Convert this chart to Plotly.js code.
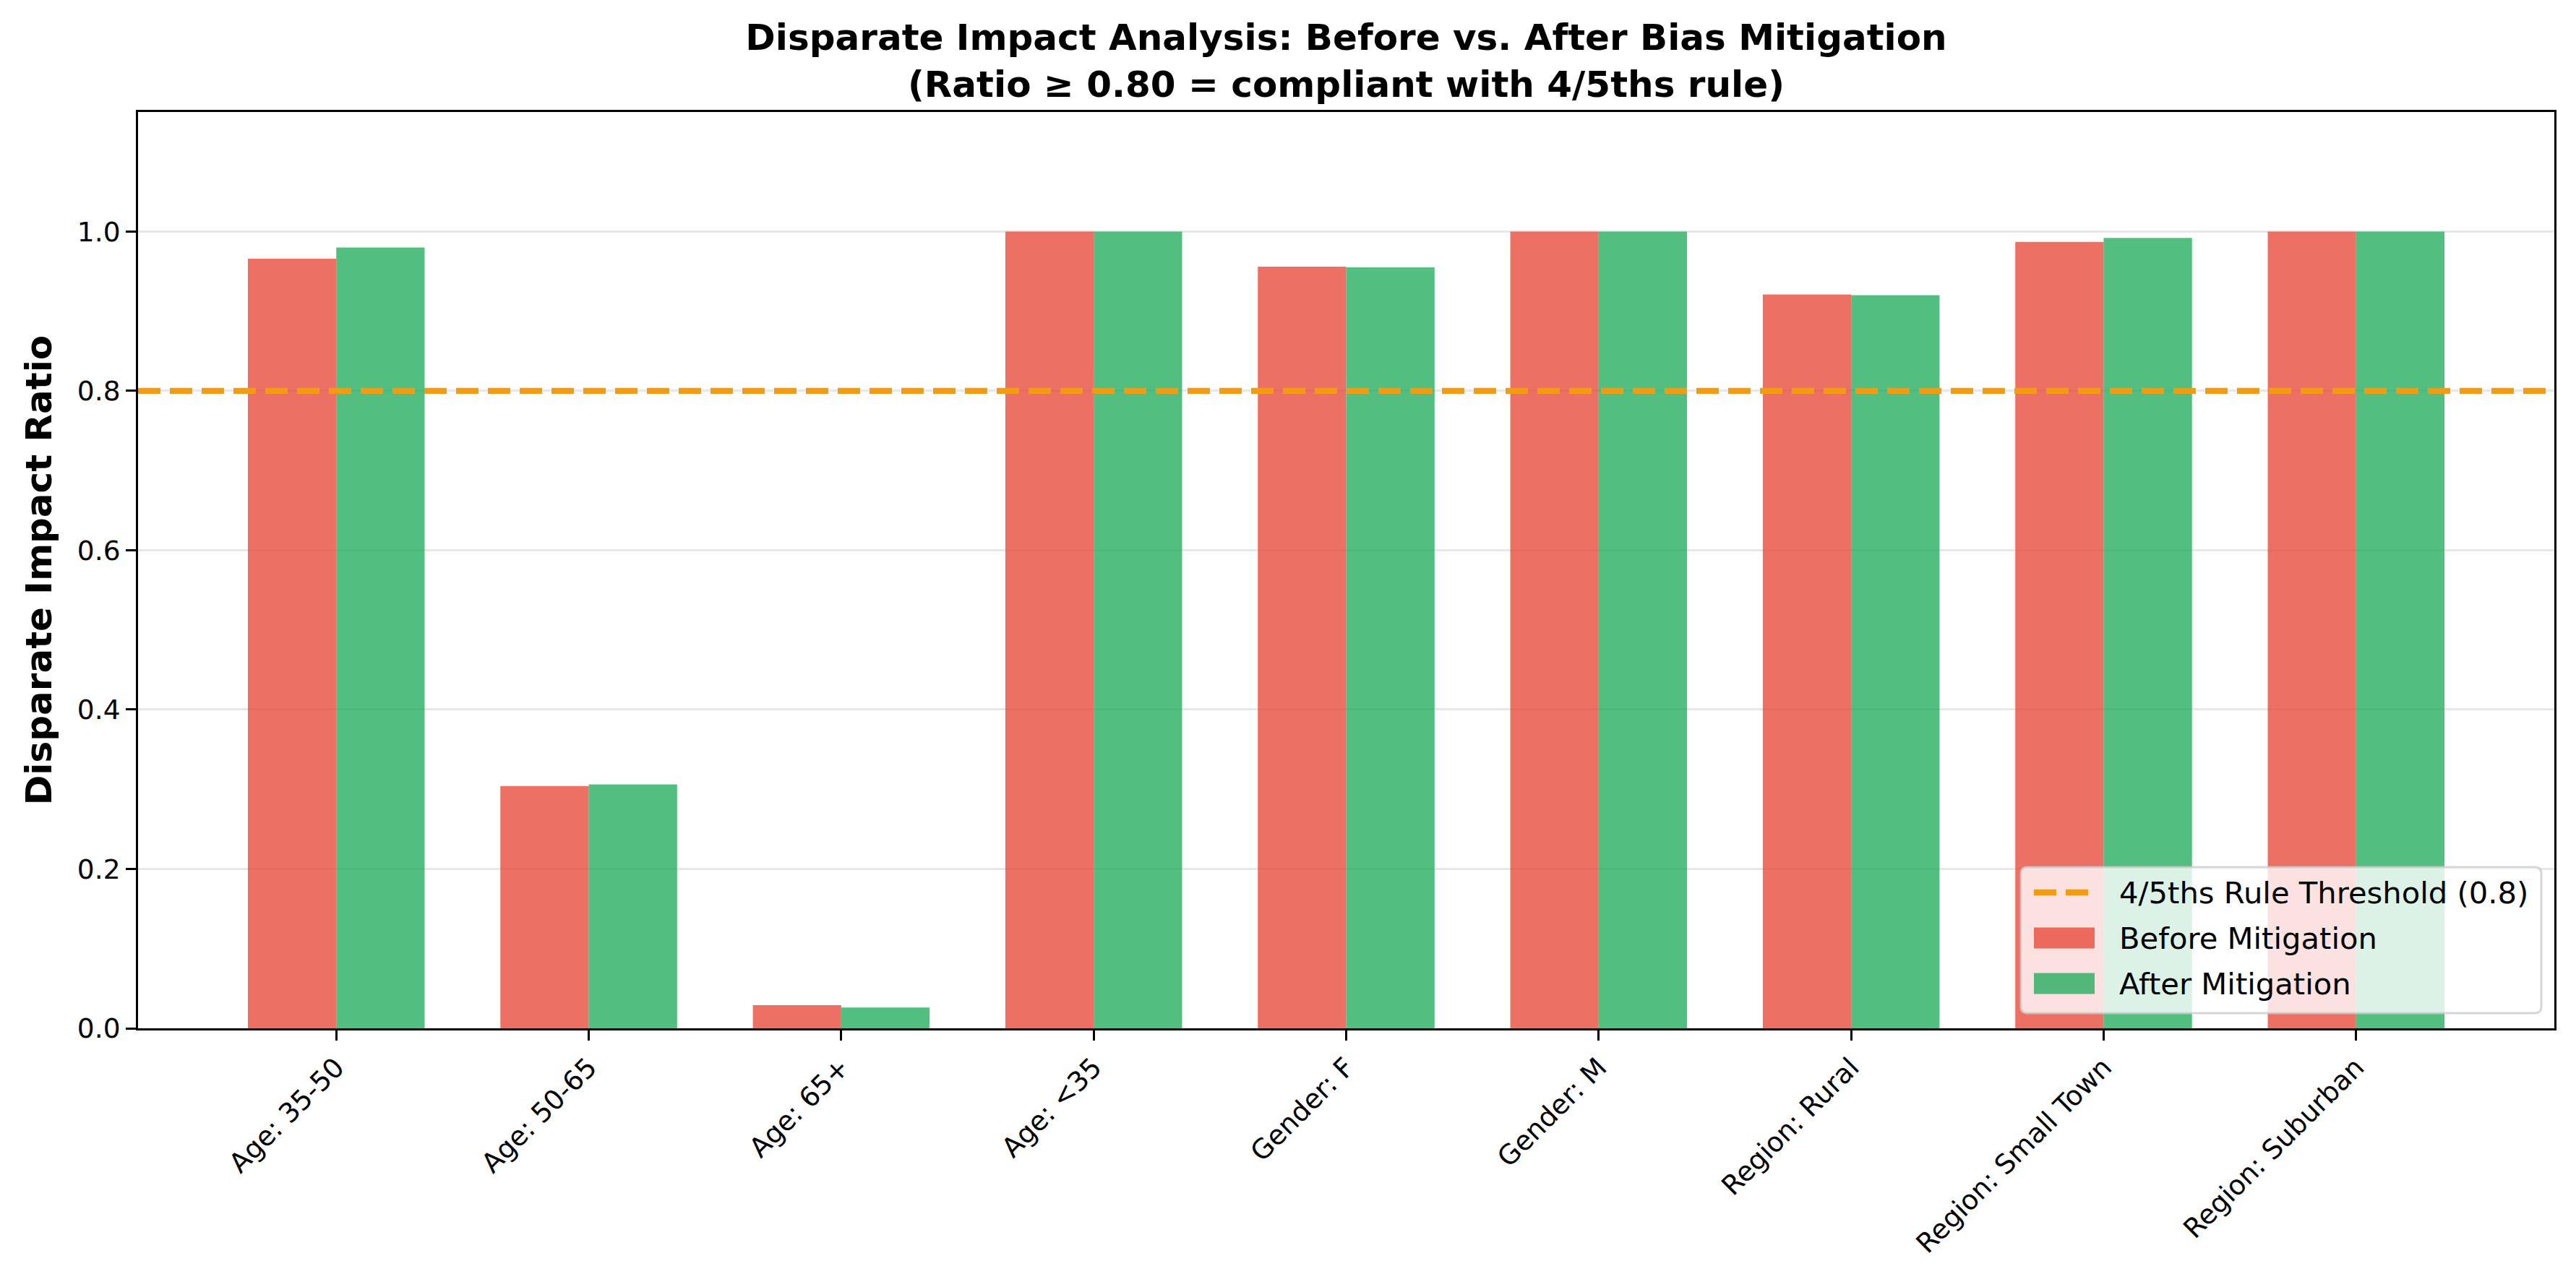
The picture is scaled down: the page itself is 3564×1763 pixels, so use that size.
<!DOCTYPE html>
<html>
<head>
<meta charset="utf-8">
<script src="https://cdn.plot.ly/plotly-3.0.1.min.js"></script>
<style>
  html, body { margin: 0; padding: 0; background: #ffffff; }
  #chart { width: 3564px; height: 1763px; }
</style>
</head>
<body>
<div id="chart"></div>
<script>
// Disparate impact ratios per subgroup, before and after mitigation
const categories = [
  'Age: 35-50', 'Age: 50-65', 'Age: 65+', 'Age: <35',
  'Gender: F', 'Gender: M',
  'Region: Rural', 'Region: Small Town', 'Region: Suburban'
];
const beforeMitigation = [0.966, 0.304, 0.029, 1.000, 0.956, 1.000, 0.921, 0.987, 1.000];
const afterMitigation  = [0.980, 0.306, 0.026, 1.000, 0.955, 1.000, 0.920, 0.992, 1.000];
const threshold = 0.8;
const yTicks = [0, 0.2, 0.4, 0.6, 0.8, 1.0];

const seriesNames = ['Before Mitigation', 'After Mitigation'];
const thresholdName = '4/5ths Rule Threshold (' + threshold + ')';

const RED = 'rgba(231,76,60,0.8)';
const GREEN = 'rgba(39,174,96,0.8)';
const ORANGE = '#f39c12';
const FONT = 'DejaVu Sans';

// plot area in page pixels
const W = 3564, H = 1763;
const PL = 191, PR = 3534, PT = 155, PB = 1423;
const px = x => (x - PL) / (PR - PL);
const py = y => (PB - y) / (PB - PT);

const escapeLabel = s => s.replace(/&/g, '&amp;').replace(/</g, '&lt;').replace(/>/g, '&gt;');

const traces = [
  {
    type: 'bar', name: seriesNames[0], x: categories, y: beforeMitigation,
    marker: { color: RED, line: { width: 0 } }, showlegend: false
  },
  {
    type: 'bar', name: seriesNames[1], x: categories, y: afterMitigation,
    marker: { color: GREEN, line: { width: 0 } }, showlegend: false
  },
  {
    // horizontal threshold spanning the full plot width (overlay axis 0..1)
    type: 'scatter', mode: 'lines', name: thresholdName,
    x: [0, 1], y: [threshold, threshold], xaxis: 'x2', yaxis: 'y',
    line: { color: ORANGE, width: 8.3, dash: '31px,13px' },
    showlegend: false, hoverinfo: 'skip'
  }
];

// hand-drawn legend box in the lower right corner
const lg = { x0: 2796, x1: 3516, y0: 1200, y1: 1402, r: 9 };
function roundedRect(b) {
  const rx = b.r / (PR - PL), ry = b.r / (PB - PT);
  const X0 = px(b.x0), X1 = px(b.x1), Y0 = py(b.y1), Y1 = py(b.y0);
  return 'M' + (X0 + rx) + ',' + Y1 +
    ' L' + (X1 - rx) + ',' + Y1 + ' Q' + X1 + ',' + Y1 + ' ' + X1 + ',' + (Y1 - ry) +
    ' L' + X1 + ',' + (Y0 + ry) + ' Q' + X1 + ',' + Y0 + ' ' + (X1 - rx) + ',' + Y0 +
    ' L' + (X0 + rx) + ',' + Y0 + ' Q' + X0 + ',' + Y0 + ' ' + X0 + ',' + (Y0 + ry) +
    ' L' + X0 + ',' + (Y1 - ry) + ' Q' + X0 + ',' + Y1 + ' ' + (X0 + rx) + ',' + Y1 + ' Z';
}

const handleX0 = 2814, handleX1 = 2898, textX = 2930;
const rowY = [1235, 1298, 1361];

const shapes = [
  {
    type: 'path', xref: 'paper', yref: 'paper', layer: 'above',
    path: roundedRect(lg),
    fillcolor: 'rgba(255,255,255,0.8)',
    line: { color: 'rgba(204,204,204,0.8)', width: 3 }
  },
  {
    type: 'line', xref: 'paper', yref: 'paper', layer: 'above',
    x0: px(handleX0), x1: px(handleX1), y0: py(rowY[0]), y1: py(rowY[0]),
    line: { color: ORANGE, width: 8.3, dash: '31px,13px' }
  },
  {
    type: 'rect', xref: 'paper', yref: 'paper', layer: 'above',
    x0: px(handleX0), x1: px(handleX1), y0: py(rowY[1] - 14.5), y1: py(rowY[1] + 14.5),
    fillcolor: RED, line: { width: 0 }
  },
  {
    type: 'rect', xref: 'paper', yref: 'paper', layer: 'above',
    x0: px(handleX0), x1: px(handleX1), y0: py(rowY[2] - 14.5), y1: py(rowY[2] + 14.5),
    fillcolor: GREEN, line: { width: 0 }
  }
];

const legendLabels = [thresholdName, seriesNames[0], seriesNames[1]];
const annotations = legendLabels.map((t, i) => ({
  xref: 'paper', yref: 'paper', x: px(textX), y: py(rowY[i]),
  xanchor: 'left', yanchor: 'middle', showarrow: false,
  text: t, font: { family: FONT, size: 41.7, color: '#000000' }
}));

const layout = {
  width: W, height: H,
  paper_bgcolor: '#ffffff', plot_bgcolor: '#ffffff',
  margin: { l: PL, r: W - PR, t: PT, b: H - PB, pad: 0, autoexpand: false },
  font: { family: FONT, color: '#000000' },
  showlegend: false,
  barmode: 'group', bargap: 0.3, bargroupgap: 0,
  title: {
    text: '<b>Disparate Impact Analysis: Before vs. After Bias Mitigation</b><br>' +
          '<b>(Ratio ≥ 0.80 = compliant with 4/5ths rule)</b>',
    font: { family: FONT, size: 50, color: '#000000' },
    x: 0.5, xref: 'paper', xanchor: 'center',
    y: 1 - 69 / H, yref: 'container', yanchor: 'top'
  },
  xaxis: {
    type: 'category',
    range: [-0.785, categories.length - 1 + 0.785],
    tickmode: 'array', tickvals: categories, ticktext: categories.map(escapeLabel),
    tickangle: -45,
    tickfont: { family: FONT, size: 37.5, color: '#000000' },
    ticks: 'outside', ticklen: 14, tickwidth: 3, tickcolor: '#000000',
    showline: true, linecolor: '#000000', linewidth: 3, mirror: true,
    showgrid: false, zeroline: false, automargin: false
  },
  xaxis2: {
    overlaying: 'x', anchor: 'y', range: [0, 1], visible: false, fixedrange: true
  },
  yaxis: {
    range: [0, 1.15],
    tickmode: 'array', tickvals: yTicks, ticktext: yTicks.map(v => v.toFixed(1)),
    tickfont: { family: FONT, size: 37.5, color: '#000000' },
    ticks: 'outside', ticklen: 14, tickwidth: 3, tickcolor: '#000000',
    showline: true, linecolor: '#000000', linewidth: 3, mirror: true,
    showgrid: true, gridcolor: '#e7e7e7', gridwidth: 3,
    zeroline: false, automargin: false,
    title: {
      text: '<b>Disparate Impact Ratio</b>',
      font: { family: FONT, size: 50, color: '#000000' },
      standoff: 20
    }
  },
  shapes: shapes,
  annotations: annotations
};

Plotly.newPlot('chart', traces, layout, { staticPlot: true, displayModeBar: false });
</script>
</body>
</html>
